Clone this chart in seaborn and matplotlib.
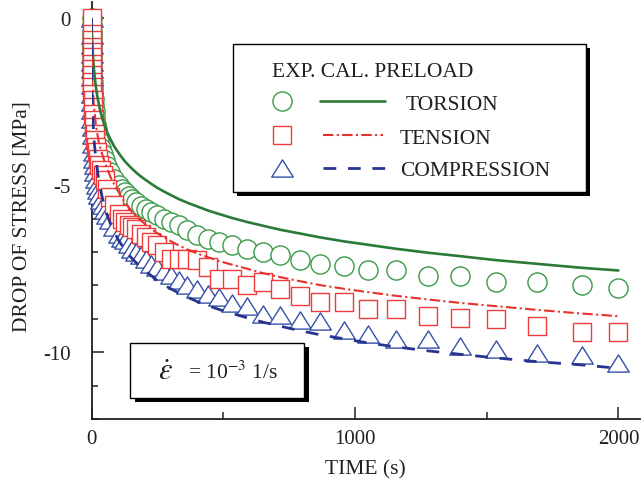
import matplotlib
matplotlib.use("Agg")
import matplotlib.pyplot as plt
import seaborn as sns
from matplotlib.lines import Line2D
from matplotlib.markers import MarkerStyle
from matplotlib.patches import Rectangle
from matplotlib.path import Path
from matplotlib.ticker import MultipleLocator

# ---------------------------------------------------------------- data
time_s = [0, 0.2, 0.4, 0.6, 0.8, 1.0, 1.3, 1.6, 2.0, 2.5, 3.0, 3.7, 4.5, 5.5,
          6.6, 8, 9.6, 11.5, 14, 17, 20, 24, 29, 35, 42, 50, 60, 72, 86, 103,
          116, 128, 141, 155, 170, 187, 206, 226, 249, 274, 301, 331, 364,
          401, 441, 485, 535, 592, 651, 717, 790, 869, 960, 1050, 1156, 1279,
          1398, 1535, 1690, 1861, 2000]

# measured stress drop (EXP.)
torsion_exp = [0, -0.21, -0.39, -0.54, -0.68, -0.79, -0.95, -1.08, -1.24, -1.41,
               -1.55, -1.72, -1.89, -2.07, -2.24, -2.42, -2.59, -2.76, -2.96, -3.15,
               -3.31, -3.49, -3.68, -3.87, -4.06, -4.24, -4.43, -4.61, -4.80, -4.99,
               -5.11, -5.21, -5.31, -5.41, -5.51, -5.61, -5.71, -5.80, -5.90, -6.00,
               -6.10, -6.20, -6.35, -6.50, -6.60, -6.70, -6.79, -6.91, -7.00, -7.09,
               -7.24, -7.36, -7.42, -7.54, -7.54, -7.72, -7.72, -7.90, -7.90, -7.99,
               -8.08]
tension_exp = [0, -0.45, -0.65, -0.85, -1.0, -1.15, -1.35, -1.5, -1.7, -1.9,
               -2.05, -2.25, -2.45, -2.65, -2.85, -3.05, -3.25, -3.45, -3.65, -3.85,
               -4.0, -4.2, -4.4, -4.55, -4.7, -4.85, -5.1, -5.35, -5.6, -5.85,
               -6.0, -6.1, -6.2, -6.25, -6.3, -6.45, -6.55, -6.7, -6.8, -7.0,
               -7.2, -7.2, -7.2, -7.25, -7.45, -7.8, -7.8, -8.0, -7.9, -8.1,
               -8.3, -8.5, -8.5, -8.7, -8.7, -8.9, -8.97, -9.0, -9.2, -9.4,
               -9.4]
compression_exp = [0, -0.5, -0.8, -1.05, -1.3, -1.5, -1.75, -2.0, -2.25, -2.5,
                   -2.75, -3.0, -3.25, -3.5, -3.75, -4.0, -4.2, -4.4, -4.6, -4.8,
                   -5.0, -5.15, -5.3, -5.45, -5.6, -5.75, -5.9, -6.05, -6.25, -6.45,
                   -6.58, -6.65, -6.75, -6.9, -7.0, -7.1, -7.2, -7.35, -7.45, -7.58,
                   -7.7, -7.85, -8.0, -8.1, -8.26, -8.35, -8.53, -8.62, -8.85, -8.89,
                   -9.03, -9.07, -9.33, -9.45, -9.6, -9.6, -9.81, -9.9, -10.02, -10.09,
                   -10.32]

# calculated stress drop (CAL.)
torsion_cal = [0, -0.06, -0.12, -0.18, -0.24, -0.29, -0.36, -0.43, -0.52, -0.62,
               -0.71, -0.83, -0.96, -1.09, -1.23, -1.38, -1.54, -1.70, -1.88, -2.07,
               -2.23, -2.42, -2.61, -2.82, -3.02, -3.21, -3.42, -3.62, -3.83, -4.03,
               -4.17, -4.29, -4.40, -4.51, -4.62, -4.73, -4.84, -4.95, -5.07, -5.18,
               -5.29, -5.41, -5.52, -5.63, -5.75, -5.86, -5.98, -6.10, -6.21, -6.33,
               -6.44, -6.56, -6.68, -6.78, -6.90, -7.02, -7.12, -7.24, -7.35, -7.47,
               -7.55]
tension_cal = [0, -0.3, -0.5, -0.7, -0.85, -1.0, -1.15, -1.3, -1.45, -1.6,
               -1.75, -1.9, -2.05, -2.2, -2.35, -2.5, -2.65, -2.8, -3.0, -3.2,
               -3.35, -3.55, -3.75, -3.92, -4.1, -4.3, -4.5, -4.75, -4.97, -5.2,
               -5.38, -5.52, -5.66, -5.8, -5.92, -6.05, -6.18, -6.3, -6.43, -6.55,
               -6.67, -6.8, -6.92, -7.04, -7.15, -7.27, -7.38, -7.5, -7.63, -7.75,
               -7.87, -7.99, -8.1, -8.2, -8.31, -8.42, -8.52, -8.62, -8.73, -8.84,
               -8.92]
compression_cal = [0, -0.6, -0.95, -1.2, -1.4, -1.55, -1.75, -1.9, -2.1, -2.3,
                   -2.5, -2.7, -2.85, -3.0, -3.2, -3.4, -3.6, -3.8, -4.0, -4.2,
                   -4.4, -4.65, -4.9, -5.15, -5.4, -5.65, -5.9, -6.15, -6.4, -6.65,
                   -6.8, -6.95, -7.08, -7.2, -7.32, -7.45, -7.58, -7.7, -7.85, -7.98,
                   -8.1, -8.22, -8.35, -8.48, -8.6, -8.72, -8.84, -8.97, -9.1, -9.22,
                   -9.35, -9.48, -9.6, -9.72, -9.84, -9.96, -10.06, -10.17, -10.28, -10.38,
                   -10.48]

preload_labels = ["TORSION", "TENSION", "COMPRESSION"]
x_ticks = [0, 1000, 2000]
y_ticks = [0, -5, -10]

# ---------------------------------------------------------------- style
INK = "#231f20"
GREEN_PT, GREEN_LN = "#3a9a48", "#2b7a38"
RED_PT, RED_LN = "#ee3b3b", "#e8302c"
BLUE_PT, BLUE_LN = "#3550a8", "#283590"

sns.set_theme(style="ticks")
plt.rcParams.update({
    "font.family": ["Liberation Serif", "DejaVu Serif"],
    "mathtext.fontset": "stix",
    "axes.unicode_minus": False,
    "text.color": INK,
    "axes.edgecolor": INK,
    "xtick.color": INK,
    "ytick.color": INK,
    "axes.labelcolor": INK,
})

W, H = 641, 481
fig = plt.figure(figsize=(W / 100, H / 100), dpi=100)
ax = fig.add_axes([91.5 / W, 1 - 420 / H, 548.5 / W, 417.2 / H])

tri_marker = MarkerStyle(Path([(0, 0.8), (-1, -0.8), (1, -0.8), (0, 0.8)],
                              [Path.MOVETO, Path.LINETO, Path.LINETO, Path.CLOSEPOLY]))
circ_marker, sq_marker = "o", "s"

marker_kw = dict(facecolor="white", linewidth=1.0, clip_on=False, ax=ax, legend=False)
sns.scatterplot(x=time_s, y=torsion_exp, marker=circ_marker, s=13.8 ** 2,
                edgecolor=GREEN_PT, color=GREEN_PT, zorder=2, **marker_kw)
sns.scatterplot(x=time_s, y=compression_exp, marker=tri_marker, s=15.5 ** 2,
                edgecolor=BLUE_PT, color=BLUE_PT, zorder=3, **marker_kw)
sns.scatterplot(x=time_s, y=tension_exp, marker=sq_marker, s=13.0 ** 2,
                edgecolor=RED_PT, color=RED_PT, zorder=4, **marker_kw)

line_kw = dict(ax=ax, sort=False, estimator=None, legend=False, zorder=5)
torsion_ls = "-"
tension_ls = (0, (5, 1.6, 1, 1.6))
compression_ls = (0, (4.6, 4.2))
sns.lineplot(x=time_s, y=torsion_cal, color=GREEN_LN, linewidth=1.9,
             linestyle=torsion_ls, **line_kw)
sns.lineplot(x=time_s, y=tension_cal, color=RED_LN, linewidth=1.5,
             linestyle=tension_ls, **line_kw)
sns.lineplot(x=time_s, y=compression_cal, color=BLUE_LN, linewidth=2.0,
             linestyle=compression_ls, **line_kw)

# ---------------------------------------------------------------- axes
ax.set_xlim(0, 2082)
ax.set_ylim(-12, 0.5)
ax.set_xticks(x_ticks)
ax.set_xticklabels([str(v) for v in x_ticks])
ax.set_yticks(y_ticks)
ax.set_yticklabels([str(v) for v in y_ticks])
ax.xaxis.set_minor_locator(MultipleLocator(500))
ax.yaxis.set_minor_locator(MultipleLocator(1))
ax.tick_params(which="both", direction="in", width=1.1, colors=INK)
ax.tick_params(axis="x", which="major", length=9, pad=7.5, labelsize=15)
ax.tick_params(axis="x", which="minor", length=5)
ax.tick_params(axis="y", which="major", length=8.6, pad=15, labelsize=15)
ax.tick_params(axis="y", which="minor", length=4.3)
for side in ("top", "right"):
    ax.spines[side].set_visible(False)
for side in ("left", "bottom"):
    ax.spines[side].set_linewidth(1.3)

ax.set_xlabel("TIME (s)", fontsize=15.5)
ax.set_ylabel("DROP OF STRESS [MPa]", fontsize=15.5)
ax.xaxis.set_label_coords(0.5, -0.096)
ax.yaxis.set_label_coords(-0.109, 0.487)


# ---------------------------------------------------------------- annotations
def fx(px):
    return px / W


def fy(py):
    return 1 - py / H


def shadow_box(x0, y0, x1, y1, dx, dy):
    fig.add_artist(Rectangle((fx(x0 + dx), fy(y1 + dy)), (x1 - x0) / W, (y1 - y0) / H,
                             transform=fig.transFigure, facecolor="black",
                             edgecolor="black", linewidth=0, zorder=10))
    fig.add_artist(Rectangle((fx(x0), fy(y1)), (x1 - x0) / W, (y1 - y0) / H,
                             transform=fig.transFigure, facecolor="white",
                             edgecolor="black", linewidth=1.0, zorder=11))


# legend box
shadow_box(233, 45, 586, 193, 4, 4)
fig.text(fx(272), fy(77), "EXP. CAL. PRELOAD", fontsize=15.5, va="baseline",
         ha="left", zorder=12)
rows = [
    (102, circ_marker, 13.8, GREEN_PT, GREEN_LN, 1.9, torsion_ls, 320, 385, 406),
    (136, sq_marker, 13.0, RED_PT, RED_LN, 1.5, tension_ls, 323, 383, 400),
    (169, tri_marker, 15.5, BLUE_PT, BLUE_LN, 2.0, compression_ls, 323, 386, 400),
]
for (yc, mk, ms, pc, lc, lw, ls, lx0, lx1, tx), label in zip(rows, preload_labels):
    fig.add_artist(Line2D([fx(282)], [fy(yc)], transform=fig.transFigure,
                          marker=mk, markersize=ms, markerfacecolor="white",
                          markeredgecolor=pc, markeredgewidth=1.0,
                          linestyle="none", zorder=12))
    fig.add_artist(Line2D([fx(lx0), fx(lx1)], [fy(yc), fy(yc)],
                          transform=fig.transFigure, color=lc, linewidth=lw,
                          linestyle=ls, zorder=12))
    fig.text(fx(tx), fy(yc + 7.5), label, fontsize=15.5, va="baseline",
             ha="left", zorder=12)

# strain-rate box
shadow_box(130, 344, 304, 399, 5, 4)
fig.text(fx(158), fy(380), r"$\dot{\varepsilon}$", fontsize=22, va="baseline",
         ha="left", zorder=12)
fig.text(fx(188), fy(379), r"= 10$^{-3}$ 1/s", fontsize=15.5, va="baseline",
         ha="left", zorder=12)

fig.savefig("out.png", dpi=100)
